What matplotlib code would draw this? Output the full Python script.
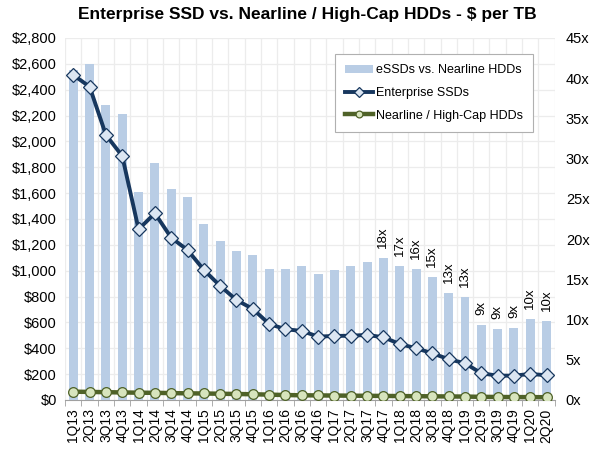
import matplotlib.pyplot as plt
import numpy as np

plt.rcParams['font.family'] = ['Liberation Sans', 'DejaVu Sans']

# Data
quarters = ["1Q13", "2Q13", "3Q13", "4Q13", "1Q14", "2Q14", "3Q14", "4Q14",
            "1Q15", "2Q15", "3Q15", "4Q15", "1Q16", "2Q16", "3Q16", "4Q16",
            "1Q17", "2Q17", "3Q17", "4Q17", "1Q18", "2Q18", "3Q18", "4Q18",
            "1Q19", "2Q19", "3Q19", "4Q19", "1Q20", "2Q20"]
ratio = [41.0, 41.8, 36.7, 35.5, 25.9, 29.5, 26.2, 25.2,
         21.9, 19.7, 18.5, 18.0, 16.3, 16.3, 16.7, 15.7,
         16.1, 16.7, 17.1, 17.7, 16.7, 16.3, 15.3, 13.3,
         12.8, 9.3, 8.8, 9.0, 10.1, 9.8]
ratio_labels = [""] * 19 + ["18x", "17x", "16x", "15x", "13x", "13x",
                            "9x", "9x", "9x", "10x", "10x"]
essd = [2514, 2423, 2050, 1887, 1320, 1444, 1255, 1160,
        1006, 882, 773, 704, 588, 547, 534, 490,
        495, 497, 503, 485, 433, 400, 361, 315,
        284, 206, 188, 188, 201, 191]
hdd = [64, 62, 60, 58, 56, 55, 53, 51, 50, 48, 46, 44, 41, 38, 36, 35,
       34, 33, 32, 31, 30, 29, 28, 27, 26, 24, 23, 22, 22, 21]

x = np.arange(len(quarters))

fig = plt.figure(figsize=(6.03, 4.55), dpi=100)
ax = fig.add_axes([0.108, 0.121, 0.812, 0.7955])

# background axis: grid and $ labels
ax.set_xlim(-0.5, len(quarters) - 0.5)
ax.set_ylim(0, 2800)
ax.set_yticks(range(0, 2801, 200))
ax.set_yticklabels(["${:,}".format(v) for v in range(0, 2801, 200)], fontsize=10.5)
ax.set_xticks(x)
ax.set_xticklabels(quarters, rotation=90, fontsize=10)
ax.set_xticks(np.arange(-0.5, len(quarters), 1), minor=True)
ax.tick_params(axis='x', which='major', length=0, pad=6)
ax.tick_params(axis='x', which='minor', length=4, color='#a0a0a0')
ax.tick_params(axis='y', length=0, pad=6)
ax.grid(True, axis='y', color='#ececec', lw=0.9)
ax.grid(True, axis='x', which='minor', color='#ececec', lw=0.9)
for s in ['top', 'right', 'left']:
    ax.spines[s].set_visible(False)
ax.spines['bottom'].set_color('#a0a0a0')

# bars on the right axis
ax2 = ax.twinx()
bars = ax2.bar(x, ratio, width=0.55, color='#b9cde5', label='eSSDs vs. Nearline HDDs')
ax2.set_ylim(0, 45)
ax2.set_yticks(range(0, 46, 5))
ax2.set_yticklabels(["{}x".format(v) for v in range(0, 46, 5)], fontsize=10.5)
ax2.tick_params(axis='y', length=0, pad=8)
for s in ['top', 'right', 'left', 'bottom']:
    ax2.spines[s].set_visible(False)
for xi, r, lab in zip(x, ratio, ratio_labels):
    if lab:
        ax2.annotate(lab, (xi, r), xytext=(0, 7), textcoords='offset points',
                     rotation=90, ha='center', va='bottom', fontsize=9.5)

# lines on top
ax3 = ax.twinx()
ax3.set_ylim(0, 2800)
ax3.set_yticks([])
for s in ['top', 'right', 'left', 'bottom']:
    ax3.spines[s].set_visible(False)
l1, = ax3.plot(x, essd, color='#17375e', lw=2.8, marker='D', markersize=7,
               markerfacecolor='#dce6f2', markeredgecolor='#17375e',
               markeredgewidth=0.9, label='Enterprise SSDs')
l2, = ax3.plot(x, hdd, color='#4f6228', lw=3.2, marker='o', markersize=7,
               markerfacecolor='#d7e4bd', markeredgecolor='#4f6228',
               markeredgewidth=0.9, label='Nearline / High-Cap HDDs')

leg = ax3.legend(handles=[bars, l1, l2], loc='upper right',
                 bbox_to_anchor=(0.955, 0.955), fontsize=9, fancybox=False,
                 edgecolor='#b0b0b0', framealpha=1, handlelength=2.2,
                 handleheight=0.6, handletextpad=0.25, borderpad=0.8,
                 labelspacing=0.85, markerscale=0.7, borderaxespad=0)
leg.get_frame().set_linewidth(0.8)

fig.suptitle("Enterprise SSD vs. Nearline / High-Cap HDDs - $ per TB",
             x=0.51, y=0.985, fontsize=12.5, fontweight='bold')

plt.savefig("out.png", dpi=100)
